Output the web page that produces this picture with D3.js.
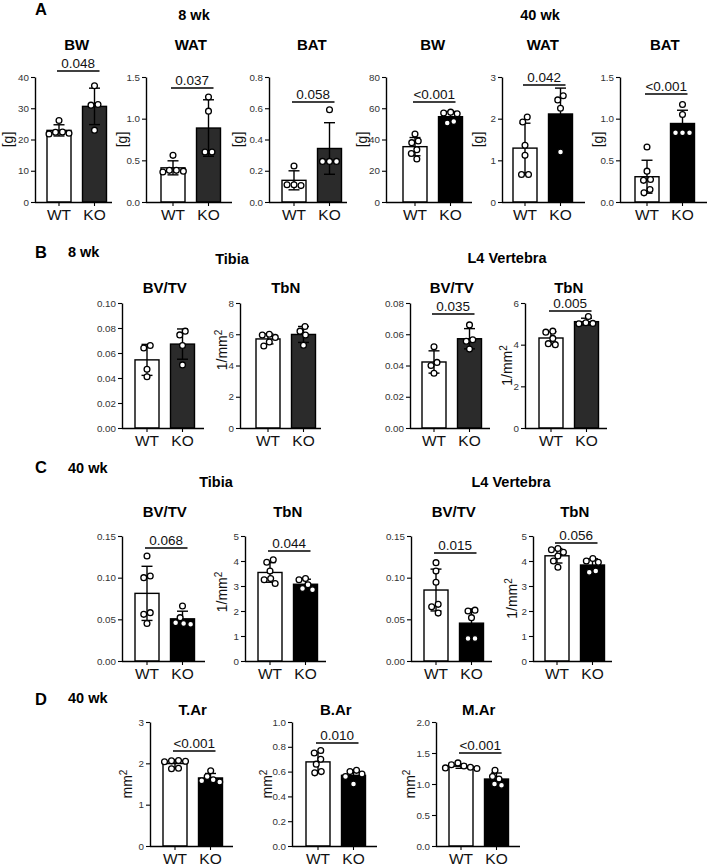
<!DOCTYPE html>
<html><head><meta charset="utf-8">
<script src="https://cdn.jsdelivr.net/npm/d3@7"></script>
<style>body{margin:0;background:#fff}svg{display:block}</style>
</head><body>
<svg id="c" width="709" height="868"></svg>
<script>
// ---------- DATA ----------
const groups = ["WT", "KO"];

// Panel A, 8 wk
const A_BW8_WT = [26.1, 22.4, 22.0, 21.8, 22.3];
const A_BW8_KO = [37.2, 31.2, 31.0, 23.0];
const A_WAT8_WT = [0.56, 0.38, 0.37, 0.38, 0.36];
const A_WAT8_KO = [1.26, 1.09, 0.60, 0.60];
const A_BAT8_WT = [0.23, 0.11, 0.105, 0.11];
const A_BAT8_KO = [0.59, 0.26, 0.26, 0.26];
// Panel A, 40 wk
const A_BW40_WT = [43.5, 39.0, 38.0, 33.5, 31.0, 27.5];
const A_BW40_KO = [57.5, 57.0, 56.5, 51.5, 50.5];
const A_WAT40_WT = [2.04, 1.92, 1.36, 1.12, 0.66, 0.66];
const A_WAT40_KO = [2.55, 2.45, 2.25, 1.2];
const A_BAT40_WT = [0.66, 0.37, 0.27, 0.26, 0.15, 0.11];
const A_BAT40_KO = [1.17, 1.05, 0.83, 0.83, 0.83];
// Panel B, 8 wk
const B_TBV_WT = [0.066, 0.064, 0.047, 0.041];
const B_TBV_KO = [0.0775, 0.0745, 0.066, 0.0505];
const B_TTB_WT = [6.0, 5.95, 5.8, 5.5, 5.25];
const B_TTB_KO = [6.5, 6.2, 5.95, 5.3];
const B_LBV_WT = [0.052, 0.042, 0.040, 0.035];
const B_LBV_KO = [0.066, 0.0565, 0.0555, 0.0505];
const B_LTB_WT = [4.65, 4.6, 4.3, 4.05, 4.0];
const B_LTB_KO = [5.35, 5.05, 5.02, 5.0];
// Panel C, 40 wk
const C_TBV_WT = [0.126, 0.102, 0.100, 0.058, 0.056, 0.045];
const C_TBV_KO = [0.066, 0.052, 0.046, 0.045, 0.044];
const C_TTB_WT = [4.05, 3.95, 3.6, 3.3, 3.25, 3.1];
const C_TTB_KO = [3.3, 3.25, 3.05, 2.9, 2.85];
const C_LBV_WT = [0.118, 0.108, 0.0945, 0.068, 0.065, 0.0575];
const C_LBV_KO = [0.061, 0.060, 0.052, 0.027, 0.027];
const C_LTB_WT = [4.5, 4.45, 4.35, 4.2, 4.0, 3.75];
const C_LTB_KO = [4.1, 4.0, 3.95, 3.6, 3.55];
// Panel D, 40 wk
const D_TAR_WT = [2.07, 2.06, 2.05, 2.04, 1.88, 1.87];
const D_TAR_KO = [1.82, 1.68, 1.6, 1.58, 1.55];
const D_BAR_WT = [0.77, 0.75, 0.70, 0.66, 0.60, 0.59];
const D_BAR_KO = [0.61, 0.60, 0.58, 0.56, 0.50];
const D_MAR_WT = [1.34, 1.31, 1.29, 1.27, 1.26, 1.25];
const D_MAR_KO = [1.22, 1.12, 1.08, 1.0, 0.98];

// tick values
const T_BW8 = [0, 10, 20, 30, 40];
const T_WAT8 = [0, 0.5, 1.0, 1.5];
const T_BAT8 = [0, 0.2, 0.4, 0.6, 0.8];
const T_BW40 = [0, 20, 40, 60, 80];
const T_WAT40 = [0, 1, 2, 3];
const T_BAT40 = [0, 0.5, 1.0, 1.5];
const T_B_TBV = [0, 0.02, 0.04, 0.06, 0.08, 0.10];
const T_B_TTB = [0, 2, 4, 6, 8];
const T_B_LBV = [0, 0.02, 0.04, 0.06, 0.08];
const T_B_LTB = [0, 2, 4, 6];
const T_C_BV = [0, 0.05, 0.10, 0.15];
const T_C_TB = [0, 1, 2, 3, 4, 5];
const T_D_TAR = [0, 1, 2, 3];
const T_D_BAR = [0, 0.2, 0.4, 0.6, 0.8, 1.0];
const T_D_MAR = [0, 0.5, 1.0, 1.5, 2.0];

// p-value labels
const P_A = ["0.048", "0.037", "0.058", "<0.001", "0.042", "<0.001"];
const P_B = [null, null, "0.035", "0.005"];
const P_C = ["0.068", "0.044", "0.015", "0.056"];
const P_D = ["<0.001", "0.010", "<0.001"];

// axis label texts: [main, superscript]
const LAB_G = ["[g]", ""];
const LAB_TBN = ["1/mm", "2"];
const LAB_AREA = ["mm", "2"];

// ---------- LAYOUT / STYLE ----------
const FONT = '"Liberation Sans", Arial, Helvetica, sans-serif';
const DARK8 = "#2b2b2b", BLACK = "#000";

const plots = [
  // panel A
  {title:"BW",  wt:A_BW8_WT,  ko:A_BW8_KO,  ticks:T_BW8,  dec:0, p:P_A[0], ylab:LAB_G, ko_fill:DARK8, top:77, bottom:202, axisX:35,  barX:47,  endX:112, ylabX:8,   titleY:50, sigY:71},
  {title:"WAT", wt:A_WAT8_WT, ko:A_WAT8_KO, ticks:T_WAT8, dec:1, p:P_A[1], ylab:LAB_G, ko_fill:DARK8, top:77, bottom:202, axisX:146, barX:161, endX:232, ylabX:122, titleY:50, sigY:88},
  {title:"BAT", wt:A_BAT8_WT, ko:A_BAT8_KO, ticks:T_BAT8, dec:1, p:P_A[2], ylab:LAB_G, ko_fill:DARK8, top:77, bottom:202, axisX:269, barX:282, endX:347, ylabX:238, titleY:50, sigY:102},
  {title:"BW",  wt:A_BW40_WT, ko:A_BW40_KO, ticks:T_BW40, dec:0, p:P_A[3], ylab:LAB_G, ko_fill:BLACK, top:77, bottom:202, axisX:386, barX:403, endX:472, ylabX:362, titleY:50, sigY:102},
  {title:"WAT", wt:A_WAT40_WT,ko:A_WAT40_KO,ticks:T_WAT40,dec:0, p:P_A[4], ylab:LAB_G, ko_fill:BLACK, top:77, bottom:202, axisX:502, barX:513, endX:585, ylabX:478, titleY:50, sigY:85},
  {title:"BAT", wt:A_BAT40_WT,ko:A_BAT40_KO,ticks:T_BAT40,dec:1, p:P_A[5], ylab:LAB_G, ko_fill:BLACK, top:77, bottom:202, axisX:620, barX:635, endX:707, ylabX:598, titleY:50, sigY:94},
  // panel B
  {title:"BV/TV", wt:B_TBV_WT, ko:B_TBV_KO, ticks:T_B_TBV, dec:2, p:P_B[0], ylab:null,    ko_fill:DARK8, top:303, bottom:428, axisX:122, barX:135, endX:204, titleY:293},
  {title:"TbN",   wt:B_TTB_WT, ko:B_TTB_KO, ticks:T_B_TTB, dec:0, p:P_B[1], ylab:LAB_TBN, ko_fill:DARK8, top:303, bottom:428, axisX:240, barX:256, endX:321, ylabX:222, ylabY:350, titleY:293},
  {title:"BV/TV", wt:B_LBV_WT, ko:B_LBV_KO, ticks:T_B_LBV, dec:2, p:P_B[2], ylab:null,    ko_fill:DARK8, top:303, bottom:428, axisX:410, barX:422, endX:490, titleY:293, sigY:314},
  {title:"TbN",   wt:B_LTB_WT, ko:B_LTB_KO, ticks:T_B_LTB, dec:0, p:P_B[3], ylab:LAB_TBN, ko_fill:DARK8, top:303, bottom:428, axisX:525, barX:539, endX:607, ylabX:507, titleY:293, sigY:311},
  // panel C
  {title:"BV/TV", wt:C_TBV_WT, ko:C_TBV_KO, ticks:T_C_BV, dec:2, p:P_C[0], ylab:null,    ko_fill:BLACK, top:536, bottom:661, axisX:122, barX:135, endX:205, titleY:517, sigY:548},
  {title:"TbN",   wt:C_TTB_WT, ko:C_TTB_KO, ticks:T_C_TB, dec:0, p:P_C[1], ylab:LAB_TBN, ko_fill:BLACK, top:536, bottom:661, axisX:245, barX:258, endX:326, ylabX:222, ylabY:592, titleY:517, sigY:551},
  {title:"BV/TV", wt:C_LBV_WT, ko:C_LBV_KO, ticks:T_C_BV, dec:2, p:P_C[2], ylab:null,    ko_fill:BLACK, top:536, bottom:661, axisX:411, barX:424, endX:492, titleY:517, sigY:553},
  {title:"TbN",   wt:C_LTB_WT, ko:C_LTB_KO, ticks:T_C_TB, dec:0, p:P_C[3], ylab:LAB_TBN, ko_fill:BLACK, top:536, bottom:661, axisX:533, barX:545, endX:612, ylabX:512, titleY:517, sigY:543},
  // panel D
  {title:"T.Ar", wt:D_TAR_WT, ko:D_TAR_KO, ticks:T_D_TAR, dec:0, p:P_D[0], ylab:LAB_AREA, ko_fill:BLACK, top:722, bottom:846, axisX:150, barX:163, endX:233, ylabX:127, titleY:715, sigY:751},
  {title:"B.Ar", wt:D_BAR_WT, ko:D_BAR_KO, ticks:T_D_BAR, dec:1, p:P_D[1], ylab:LAB_AREA, ko_fill:BLACK, top:722, bottom:846, axisX:292, barX:306, endX:377, ylabX:267, titleY:715, sigY:743},
  {title:"M.Ar", wt:D_MAR_WT, ko:D_MAR_KO, ticks:T_D_MAR, dec:1, p:P_D[2], ylab:LAB_AREA, ko_fill:BLACK, top:722, bottom:846, axisX:436, barX:449, endX:520, ylabX:410, titleY:715, sigY:753}
];

const headings = [
  {t:"A", x:35, y:15, size:16.5, anchor:"start"},
  {t:"8 wk", x:194, y:20, size:14.5, anchor:"middle"},
  {t:"40 wk", x:540, y:20, size:14.5, anchor:"middle"},
  {t:"B", x:35, y:258, size:16.5, anchor:"start"},
  {t:"8 wk", x:68, y:257, size:14.5, anchor:"start"},
  {t:"Tibia", x:232, y:264, size:14.5, anchor:"middle"},
  {t:"L4 Vertebra", x:507, y:263, size:14.5, anchor:"middle"},
  {t:"C", x:35, y:473, size:16.5, anchor:"start"},
  {t:"40 wk", x:68, y:473, size:14.5, anchor:"start"},
  {t:"Tibia", x:216, y:487, size:14.5, anchor:"middle"},
  {t:"L4 Vertebra", x:511, y:487, size:14.5, anchor:"middle"},
  {t:"D", x:35, y:705, size:16.5, anchor:"start"},
  {t:"40 wk", x:68, y:703, size:14.5, anchor:"start"}
];

// ---------- DRAW ----------
const svg = d3.select("#c");
svg.append("rect").attr("width", 709).attr("height", 868).attr("fill", "#fff");

svg.selectAll("text.head").data(headings).join("text")
  .attr("class", "head")
  .attr("x", d => d.x).attr("y", d => d.y)
  .attr("text-anchor", d => d.anchor)
  .attr("font-family", FONT).attr("font-weight", "bold")
  .attr("font-size", d => d.size).attr("fill", "#000")
  .text(d => d.t);

const DOT_D = 6.6; // min center distance between dots
function swarm(vals, y, cx) {
  const pts = vals.map(v => ({v, py: y(v)})).sort((a, b) => a.py - b.py);
  // split into vertical components
  const comps = [];
  let cur = null;
  pts.forEach(p => {
    if (cur && p.py - cur[cur.length - 1].py < DOT_D) cur.push(p);
    else { cur = [p]; comps.push(cur); }
  });
  comps.forEach(c => {
    const placed = [];
    c.forEach(p => {
      let best = 0;
      for (let k = 0; k < 200; k++) {
        const off = (k % 2 === 0 ? 1 : -1) * Math.ceil(k / 2) * 0.5;
        const ok = placed.every(q => Math.hypot(q.off - off, q.py - p.py) >= DOT_D);
        if (ok) { best = off; break; }
      }
      p.off = best;
      placed.push(p);
    });
    const m = d3.mean(c, p => p.off);
    c.forEach(p => { p.px = cx + p.off - m; });
  });
  return pts;
}

plots.forEach(p => {
  const g = svg.append("g");
  const y = d3.scaleLinear().domain([0, d3.max(p.ticks)]).range([p.bottom, p.top]);
  const x = d3.scaleBand().domain(groups).range([p.barX, p.barX + 59.5]).paddingInner(0.324).paddingOuter(0);
  const bw = x.bandwidth();

  // title
  g.append("text").attr("x", p.barX + 29.75).attr("y", p.titleY)
    .attr("text-anchor", "middle").attr("font-family", FONT).attr("font-weight", "bold")
    .attr("font-size", 15).text(p.title);

  // bars
  const stats = groups.map(k => {
    const vals = k === "WT" ? p.wt : p.ko;
    return {k, vals, m: d3.mean(vals), s: d3.deviation(vals)};
  });
  g.selectAll("rect.bar").data(stats).join("rect")
    .attr("class", "bar")
    .attr("x", d => x(d.k)).attr("width", bw)
    .attr("y", d => y(d.m)).attr("height", d => p.bottom - y(d.m))
    .attr("fill", d => d.k === "WT" ? "#fff" : p.ko_fill)
    .attr("stroke", "#000").attr("stroke-width", 1.4);

  // error bars
  stats.forEach(d => {
    const cx = x(d.k) + bw / 2;
    const eb = g.append("g").attr("stroke", "#000").attr("stroke-width", 1.4);
    eb.append("line").attr("x1", cx).attr("x2", cx).attr("y1", y(d.m - d.s)).attr("y2", y(d.m + d.s));
    [d.m - d.s, d.m + d.s].forEach(v => {
      eb.append("line").attr("x1", cx - 5.5).attr("x2", cx + 5.5).attr("y1", y(v)).attr("y2", y(v));
    });
  });

  // dots
  stats.forEach(d => {
    const cx = x(d.k) + bw / 2;
    const pts = swarm(d.vals, y, cx);
    g.selectAll(null).data(pts).join("circle")
      .attr("cx", q => q.px).attr("cy", q => q.py).attr("r", 2.9)
      .attr("fill", "#fff").attr("stroke", "#000").attr("stroke-width", 1.3);
  });

  // y axis
  const ya = g.append("g").attr("transform", `translate(${p.axisX},0)`)
    .call(d3.axisLeft(y).tickValues(p.ticks).tickFormat(d3.format(`.${p.dec}f`))
      .tickSize(4).tickSizeOuter(0).tickPadding(2));
  ya.select(".domain").attr("stroke-width", 1.4);
  ya.selectAll(".tick line").attr("stroke-width", 1.1);
  ya.selectAll("text").attr("font-size", 9.8).attr("fill", "#333").attr("font-family", FONT);

  // x axis
  const xa = g.append("g").attr("transform", `translate(0,${p.bottom})`)
    .call(d3.axisBottom(x).tickSize(4).tickPadding(3));
  xa.select(".domain").remove();
  xa.selectAll(".tick line").attr("stroke-width", 1.1);
  xa.selectAll("text").attr("font-size", 15.5).attr("font-family", FONT).attr("fill", "#111");
  g.append("line").attr("x1", p.axisX).attr("x2", p.endX)
    .attr("y1", p.bottom + 0.5).attr("y2", p.bottom + 0.5)
    .attr("stroke", "#000").attr("stroke-width", 1.4);

  // y label
  if (p.ylab) {
    const cy = p.ylabY || (p.top + p.bottom) / 2;
    const t = g.append("text")
      .attr("transform", `translate(${p.ylabX},${cy}) rotate(-90)`)
      .attr("text-anchor", "middle").attr("dy", "0.35em")
      .attr("font-family", FONT).attr("font-size", 14).attr("fill", "#111");
    t.append("tspan").text(p.ylab[0]);
    if (p.ylab[1]) t.append("tspan").attr("dy", "-0.45em").attr("font-size", 10).text(p.ylab[1]);
  }

  // significance bracket
  if (p.p) {
    const x1 = x("WT") + bw / 2 - 2, x2 = x("KO") + bw / 2 + 5;
    g.append("line").attr("x1", x1).attr("x2", x2).attr("y1", p.sigY).attr("y2", p.sigY)
      .attr("stroke", "#000").attr("stroke-width", 1.5);
    g.append("text").attr("x", (x1 + x2) / 2).attr("y", p.sigY - 3.5)
      .attr("text-anchor", "middle").attr("font-family", FONT).attr("font-size", 13.5)
      .attr("fill", "#111").text(p.p);
  }
});
</script>
</body></html>
